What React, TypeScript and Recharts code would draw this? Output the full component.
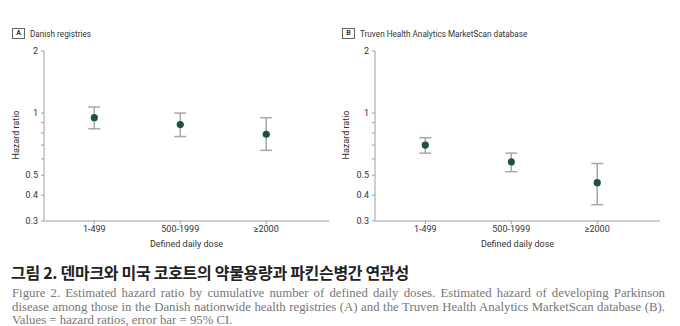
import { ScatterChart, Scatter, XAxis, YAxis, ErrorBar } from "recharts";

const doses = ["1-499", "500-1999", "≥2000"];

// Danish registries (A)
const hrDanish = [0.95, 0.88, 0.79];
const lowDanish = [0.84, 0.77, 0.66];
const highDanish = [1.07, 1.0, 0.95];

// Truven Health Analytics MarketScan (B)
const hrTruven = [0.7, 0.58, 0.46];
const lowTruven = [0.64, 0.52, 0.36];
const highTruven = [0.76, 0.64, 0.57];

const yTicks = [0.3, 0.4, 0.5, 0.6, 0.7, 0.8, 0.9, 1, 2];
const yLabelled = [0.3, 0.4, 0.5, 1, 2];

const sans = "Roboto, 'Liberation Sans', sans-serif";
const dotColor = "#1f4e4d";
const barColor = "#a8a8a8";
const axisColor = "#a0a0a0";

function buildRows(hr: number[], lo: number[], hi: number[]) {
  return doses.map((_, i) => ({
    x: i + 1,
    hr: hr[i],
    err: [hr[i] - lo[i], hi[i] - hr[i]],
  }));
}

function Dot(props: any) {
  return <circle cx={props.cx} cy={props.cy} r={3.6} fill={dotColor} />;
}

type PanelProps = {
  left: number;
  letter: string;
  title: string;
  rows: { x: number; hr: number; err: number[] }[];
  yAxisWidth: number;
  rightMargin: number;
};

function Panel({ left, letter, title, rows, yAxisWidth, rightMargin }: PanelProps) {
  return (
    <div style={{ position: "absolute", left, top: 0, width: 340, height: 250 }}>
      <div
        style={{
          position: "absolute",
          left: 12,
          top: 28,
          display: "flex",
          alignItems: "center",
          fontFamily: sans,
          fontSize: 8.2,
          color: "#333",
          whiteSpace: "nowrap",
        }}
      >
        <span
          style={{
            display: "inline-block",
            width: 11,
            height: 9,
            border: "1px solid #666",
            fontSize: 7,
            fontWeight: 700,
            lineHeight: "9px",
            textAlign: "center",
            marginRight: 5,
          }}
        >
          {letter}
        </span>
        <span>{title}</span>
      </div>
      <div
        style={{
          position: "absolute",
          left: 16,
          top: 135,
          transform: "translate(-50%, -50%) rotate(-90deg)",
          fontFamily: sans,
          fontSize: 9,
          color: "#333",
          whiteSpace: "nowrap",
        }}
      >
        Hazard ratio
      </div>
      <ScatterChart
        width={340}
        height={250}
        margin={{ top: 51, right: rightMargin, left: 0, bottom: 0 }}
      >
        <XAxis
          type="number"
          dataKey="x"
          domain={[0.415, 3.73]}
          allowDataOverflow
          ticks={[1, 2, 3]}
          interval={0}
          tickFormatter={(v) => doses[v - 1] ?? ""}
          height={29}
          tickSize={3}
          tickMargin={2}
          stroke={axisColor}
          tick={{ fill: "#333", fontSize: 9, fontFamily: sans }}
          label={{
            value: "Defined daily dose",
            position: "insideBottom",
            offset: 3,
            fill: "#333",
            fontSize: 9,
            fontFamily: sans,
          }}
        />
        <YAxis
          type="number"
          dataKey="hr"
          scale="log"
          domain={[0.3, 2]}
          allowDataOverflow
          ticks={yTicks}
          interval={0}
          tickFormatter={(v) => (yLabelled.includes(v) ? String(v) : "")}
          width={yAxisWidth}
          tickSize={3}
          tickMargin={3}
          stroke={axisColor}
          tick={{ fill: "#333", fontSize: 9, fontFamily: sans }}
        />
        <Scatter data={rows} shape={Dot} isAnimationActive={false}>
          <ErrorBar
            dataKey="err"
            direction="y"
            width={6}
            stroke={barColor}
            strokeWidth={1.5}
            isAnimationActive={false}
          />
        </Scatter>
      </ScatterChart>
    </div>
  );
}

export default function App() {
  return (
    <div
      style={{
        position: "absolute",
        left: 0,
        top: 0,
        width: 680,
        height: 326,
        background: "#fff",
        overflow: "hidden",
      }}
    >
      <Panel
        left={0}
        letter="A"
        title="Danish registries"
        rows={buildRows(hrDanish, lowDanish, highDanish)}
        yAxisWidth={44}
        rightMargin={11}
      />
      <Panel
        left={330}
        letter="B"
        title="Truven Health Analytics MarketScan database"
        rows={buildRows(hrTruven, lowTruven, highTruven)}
        yAxisWidth={45}
        rightMargin={10}
      />
      <div
        style={{
          position: "absolute",
          left: 11,
          top: 261,
          fontFamily: "'Noto Sans CJK KR', sans-serif",
          fontWeight: 700,
          fontSize: 16,
          letterSpacing: -0.3,
          color: "#222",
          whiteSpace: "nowrap",
          lineHeight: "22px",
        }}
      >
        그림 2. 덴마크와 미국 코호트의 약물용량과 파킨슨병간 연관성
      </div>
      <div
        style={{
          position: "absolute",
          left: 12,
          top: 287,
          width: 653,
          fontFamily: "'Liberation Serif', serif",
          fontSize: 12.8,
          lineHeight: "13.5px",
          color: "#777",
        }}
      >
        <div style={{ textAlign: "justify", textAlignLast: "justify", whiteSpace: "nowrap" }}>
          Figure 2. Estimated hazard ratio by cumulative number of defined daily doses. Estimated hazard of developing Parkinson
        </div>
        <div style={{ textAlign: "justify", textAlignLast: "justify", whiteSpace: "nowrap" }}>
          disease among those in the Danish nationwide health registries (A) and the Truven Health Analytics MarketScan database (B).
        </div>
        <div>Values = hazard ratios, error bar = 95% CI.</div>
      </div>
    </div>
  );
}
